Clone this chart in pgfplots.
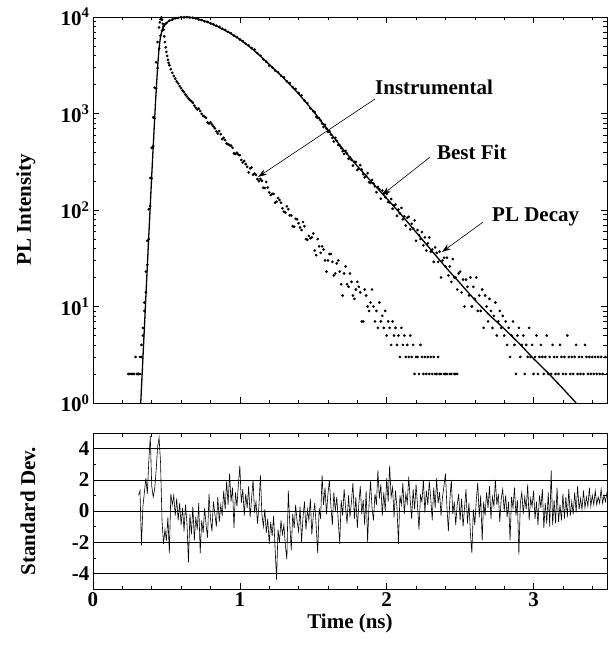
\documentclass[border=0pt]{standalone}
\usepackage{fontspec}
\setmainfont{Liberation Serif}
\usepackage{pgfplots}
\pgfplotsset{compat=1.18}
\usetikzlibrary{arrows.meta,calc}
\newcommand{\bigf}{\fontsize{21}{21}\selectfont\bfseries}
\begin{document}
\begin{tikzpicture}
\pgfplotsset{
  every axis/.append style={
    scale only axis, width=514pt,
    xmin=0, xmax=3.5,
    tick align=inside,
    major tick length=6pt, minor tick length=3.5pt,
    every tick/.style={black, line width=0.6pt},
    axis line style={line width=0.8pt},
    /pgf/number format/assume math mode=true,
    ticklabel style={font=\bigf},
    label style={font=\bigf},
    xtick={0,1,2,3},
    minor xtick={0.2,0.4,0.6,0.8,1.2,1.4,1.6,1.8,2.2,2.4,2.6,2.8,3.2,3.4},
    every axis y label/.style={at={(axis description cs:-0.105,0.5)},rotate=90,anchor=south,font=\bigf},
  }
}
\begin{axis}[name=top, height=386pt, ymode=log, ymin=1, ymax=10000,
  xticklabels={},
  ytick={1,10,100,1000,10000},
  yticklabels={10\textsuperscript{0},10\textsuperscript{1},10\textsuperscript{2},10\textsuperscript{3},10\textsuperscript{4}},
  minor ytick={2,3,4,5,6,7,8,9,20,30,40,50,60,70,80,90,200,300,400,500,600,700,800,900,2000,3000,4000,5000,6000,7000,8000,9000},
  ylabel={PL Intensity}]
% Instrumental response (dots)
\addplot[only marks, mark=*, mark size=1.15pt, black] coordinates {
(0.30,2)(0.31,2)(0.32,2)(0.33,3)(0.34,5)(0.35,11)(0.36,23)(0.37,48)(0.38,102)(0.39,215)(0.40,440)(0.41,910)(0.42,1850)(0.43,3400)(0.44,5500)(0.45,7800)(0.455,8800)(0.46,9500)(0.465,9900)(0.47,9400)(0.475,8500)(0.48,7400)(0.485,6300)(0.49,5500)(0.495,4850)(0.50,4350)(0.505,3950)(0.51,3600)(0.515,3350)(0.52,3160)(0.53,2880)(0.54,2640)(0.55,2450)(0.56,2300)(0.57,2150)(0.58,2050)(0.59,1920)(0.60,1830)(0.61,1730)(0.62,1665)(0.63,1570)(0.64,1500)(0.65,1430)(0.66,1380)(0.67,1340)(0.68,1292)(0.69,1210)(0.70,1148)(0.71,1100)(0.72,1123)(0.73,1060)(0.74,991)(0.75,945)(0.76,926)(0.77,901)(0.78,807)(0.79,790)(0.80,810)(0.81,770)(0.82,735)(0.83,701)(0.84,653)(0.85,621)(0.86,659)(0.87,610)(0.88,543)(0.89,560)(0.90,530)(0.91,489)(0.92,480)(0.93,470)(0.94,464)(0.95,441)(0.96,386)(0.97,380)(0.98,392)(0.99,375)(1.00,370)(1.01,330)(1.02,311)(1.03,322)(1.04,299)(1.05,280)(1.06,245)(1.07,270)(1.08,276)(1.09,232)(1.10,239)(1.11,231)(1.12,209)(1.13,199)(1.14,210)(1.15,201)(1.16,170)(1.17,169)(1.18,195)(1.19,171)(1.20,152)(1.21,143)(1.22,147)(1.23,147)(1.24,119)(1.25,122)(1.26,133)(1.27,127)(1.28,119)(1.29,104)(1.30,96)(1.31,94)(1.32,109)(1.33,102)(1.34,88)(1.35,88)(1.36,68)(1.37,67)(1.38,81)(1.39,80)(1.40,73)(1.41,66)(1.42,62)(1.43,75)(1.44,68)(1.45,50)(1.46,49)(1.47,54)(1.48,51)(1.49,52)(1.50,57)(1.51,38)(1.52,34)(1.53,50)(1.54,42)(1.55,36)(1.56,42)(1.57,39)(1.58,30)(1.59,23)(1.60,30)(1.61,35)(1.62,35)(1.63,29)(1.64,21)(1.65,22)(1.66,28)(1.67,30)(1.68,23)(1.69,17)(1.70,13)(1.71,22)(1.72,26)(1.73,17)(1.74,16)(1.75,22)(1.76,18)(1.77,13)(1.78,12)(1.79,15)(1.80,18)(1.81,16)(1.82,14)(1.83,7)(1.84,7)(1.85,15)(1.86,13)(1.87,10)(1.88,9)(1.89,11)(1.90,15)
(1.91,10)(1.92,7)(1.93,9)(1.94,6)(1.95,11)(1.96,7)(1.97,8)(1.98,6)(1.99,9)(2.00,5)(2.01,7)(2.02,6)(2.03,4)(2.04,7)(2.05,5)(2.06,6)(2.07,4)(2.08,5)(2.09,3)(2.10,6)(2.11,4)(2.12,5)(2.13,3)(2.14,4)(2.15,3)(2.16,5)(2.17,3)(2.18,4)(2.19,2)(2.20,3)(2.21,3)(2.22,2)(2.23,4)(2.24,3)(2.25,2)(2.26,3)(2.27,2)(2.28,3)(2.29,2)(2.30,3)(2.31,2)(2.32,3)(2.33,2)(2.34,2)(2.35,3)(2.36,2)(2.37,2)(2.39,2)(2.40,2)(2.41,2)(2.43,2)(2.44,2)(2.46,2)(2.47,2)(2.48,2)
};
% PL decay (dots)
\addplot[only marks, mark=*, mark size=1.15pt, black] coordinates {
(0.24,2)(0.25,2)(0.26,2)(0.27,2)(0.28,2)(0.29,3)(0.30,2)(0.31,2)(0.32,3)(0.33,4)(0.34,6)(0.35,9)(0.36,14)(0.37,27)(0.38,50)(0.39,110)(0.40,212)(0.41,460)(0.42,890)(0.43,1820)(0.44,2950)(0.45,4700)(0.46,6400)(0.47,7200)(0.48,8000)(0.49,8400)(0.50,8650)
(0.52,9180)(0.54,9400)(0.56,9700)(0.58,9790)(0.60,9980)(0.62,9900)(0.64,9960)(0.66,9850)(0.68,9820)(0.70,9700)(0.72,9420)(0.74,9300)(0.76,9010)(0.78,8900)(0.80,8600)(0.82,8430)(0.84,8110)(0.86,7900)(0.88,7550)(0.90,7340)(0.92,7000)(0.94,6790)(0.96,6420)(0.98,6190)(1.00,5850)(1.02,5620)(1.04,5290)(1.06,5080)(1.08,4780)(1.10,4600)(1.12,4210)(1.14,3970)(1.16,3640)(1.18,3430)(1.20,3130)(1.22,3000)(1.24,2780)(1.26,2670)(1.28,2460)(1.30,2370)(1.32,2160)(1.34,2070)(1.36,1880)(1.38,1800)(1.40,1630)(1.42,1540)(1.44,1360)(1.46,1280)(1.48,1130)
(1.50,1057)(1.51,1035)(1.52,921)(1.53,901)(1.54,895)(1.55,849)(1.56,788)(1.57,726)(1.58,764)(1.59,697)(1.60,643)(1.61,654)(1.62,605)(1.63,559)(1.64,512)(1.65,559)(1.66,521)(1.67,472)(1.68,466)(1.69,437)(1.70,407)(1.71,381)(1.72,409)(1.73,385)(1.74,339)(1.75,350)(1.76,330)(1.77,289)(1.78,315)(1.79,314)(1.80,260)(1.81,268)(1.82,292)(1.83,262)(1.84,235)(1.85,218)(1.86,226)(1.87,241)(1.88,194)(1.89,191)(1.90,205)(1.91,188)(1.92,176)(1.93,153)(1.94,173)(1.95,164)(1.96,131)(1.97,159)(1.98,148)(1.99,136)(2.00,147)
(2.01,121)(2.02,120)(2.03,130)(2.04,103)(2.05,112)(2.06,114)(2.07,87)(2.08,101)(2.09,92)(2.10,105)(2.11,80)(2.12,86)(2.13,69)(2.14,83)(2.15,85)(2.16,63)(2.17,72)(2.18,64)(2.19,78)(2.20,48)(2.21,62)(2.22,55)(2.23,50)(2.24,59)(2.25,43)(2.26,52)(2.27,38)(2.28,45)(2.29,52)(2.30,37)(2.31,39)(2.32,29)(2.33,41)(2.34,36)(2.35,29)(2.36,37)(2.37,20)(2.38,30)(2.39,32)(2.40,26)(2.41,32)(2.42,21)(2.43,26)(2.44,18)(2.45,31)(2.46,20)(2.47,20)(2.48,15)(2.49,22)(2.50,23)(2.51,14)(2.52,19)(2.53,10)(2.54,19)(2.55,16)(2.56,13)(2.57,20)(2.58,10)(2.59,16)(2.60,12)(2.61,20)(2.62,9)(2.63,13)(2.64,9)(2.65,15)(2.66,6)(2.67,13)(2.68,10)(2.69,7)(2.70,12)
(2.71,9)(2.72,6)(2.73,8)(2.74,11)(2.75,5)(2.76,7)(2.77,9)(2.78,6)(2.79,8)(2.80,5)(2.81,7)(2.82,4)(2.83,6)(2.84,3)(2.85,5)(2.86,7)(2.87,4)(2.88,2)(2.89,5)(2.90,6)(2.91,3)(2.92,4)(2.93,5)(2.94,2)(2.95,4)(2.96,3)(2.97,6)(2.98,3)(2.99,4)(3.00,2)(3.01,3)(3.02,5)(3.03,2)(3.04,3)(3.05,4)(3.06,3)(3.07,2)(3.08,3)(3.09,5)(3.10,2)(3.11,3)(3.12,2)(3.13,4)(3.14,3)(3.15,2)(3.16,3)(3.17,2)(3.18,4)(3.19,3)(3.20,2)(3.21,3)(3.22,2)(3.23,5)(3.24,3)(3.25,2)(3.26,3)(3.27,2)(3.28,3)(3.29,4)(3.30,2)(3.31,3)(3.32,2)(3.33,3)(3.34,2)(3.35,4)(3.36,3)(3.37,2)(3.38,3)(3.39,2)(3.40,3)(3.41,2)(3.42,3)(3.43,2)(3.44,3)(3.45,2)(3.46,3)(3.47,2)(3.49,3)(3.50,2)
};
% Best fit (line)
\addplot[black, line width=1.3pt] coordinates {
(0.325,1)(0.35,6.03)(0.375,38.0)(0.40,229)(0.425,1259)(0.44,3020)(0.45,4786)(0.46,6310)(0.47,7244)(0.48,7943)(0.50,8710)(0.52,9120)(0.55,9550)(0.60,9931)(0.65,9990)(0.70,9660)(0.775,8913)(0.85,7943)(0.925,6918)(1.00,5888)(1.10,4467)(1.20,3236)(1.30,2317)(1.40,1603)(1.50,1059)(1.60,676)(1.70,432)(1.80,285)(1.90,193)(2.00,132)(2.10,89.1)(2.20,58.9)(2.30,38.9)(2.40,25.7)(2.50,17.4)(2.60,11.7)(2.70,8.13)(2.80,5.89)(2.90,4.17)(3.00,2.88)(3.10,2.04)(3.20,1.41)(3.29,1.0)
};
\draw[-{Stealth[length=9pt,width=6pt]}, line width=0.6pt] (axis cs:1.92,1413) -- (axis cs:1.124,220);
\draw[-{Stealth[length=9pt,width=6pt]}, line width=0.6pt] (axis cs:2.295,354) -- (axis cs:1.968,143);
\draw[-{Stealth[length=9pt,width=6pt]}, line width=0.6pt] (axis cs:2.656,75) -- (axis cs:2.376,36.7);
\node[anchor=west, font=\bigf, inner sep=0pt] at (axis cs:1.92,1884) {Instrumental};
\node[anchor=west, font=\bigf, inner sep=0pt] at (axis cs:2.342,398) {Best Fit};
\node[anchor=west, font=\bigf, inner sep=0pt] at (axis cs:2.717,84.5) {PL Decay};
\end{axis}
\begin{axis}[name=bot, at={($(top.south west)+(0,-30pt)$)}, anchor=north west,
  height=156pt, ymin=-5, ymax=5,
  ytick={-4,-2,0,2,4}, minor ytick={-3,-1,1,3},
  ymajorgrids, major grid style={black, line width=0.5pt},
  xlabel={Time (ns)}, ylabel={Standard Dev.}]
\addplot[black, line width=0.6pt] coordinates {
(0.31,1.0)(0.32,1.3)(0.33,-2.2)(0.34,0.3)(0.35,1.2)(0.36,2.1)(0.37,1.1)(0.38,3.2)(0.39,4.8)(0.40,1.6)(0.41,0.9)(0.42,1.4)(0.43,2.6)(0.44,4.1)(0.45,4.7)(0.46,3.1)(0.47,-0.6)(0.48,-2.1)(0.49,-1.2)(0.50,-1.9)(0.51,-0.4)(0.52,-2.7)(0.53,1.1)(0.54,0.4)(0.55,1.0)(0.56,-0.3)(0.57,0.8)(0.58,-0.6)(0.59,0.5)(0.60,-0.9)(0.61,0.2)(0.62,-1.3)(0.63,0.4)(0.64,-0.8)(0.65,-3.3)(0.66,-0.2)(0.67,-1.5)(0.68,0.3)(0.69,-1.9)(0.70,-0.4)(0.71,-1.2)(0.72,0.5)(0.73,-2.7)(0.74,-0.6)(0.75,-1.4)(0.76,0.2)(0.77,-0.9)(0.78,-1.7)(0.79,1.1)(0.80,-0.5)(0.81,-1.3)(0.82,0.6)(0.83,-0.2)(0.84,-1.0)(0.85,0.9)(0.86,-0.7)(0.87,0.4)(0.88,-0.3)(0.89,1.3)(0.90,0.1)(0.91,1.9)(0.92,0.4)(0.93,2.4)(0.94,0.6)(0.95,1.5)(0.96,-1.1)(0.97,1.2)(0.98,0.3)(0.99,1.7)(1.00,2.9)(1.01,0.5)(1.02,1.4)(1.03,-0.3)(1.04,1.1)(1.05,0.2)(1.06,1.6)(1.07,-0.4)(1.08,0.8)(1.09,2.0)(1.10,-0.1)(1.11,0.6)(1.12,-0.8)(1.13,0.3)(1.14,2.3)(1.15,-0.2)(1.16,-1.0)(1.17,0.1)(1.18,-1.4)(1.19,-0.5)(1.20,-2.1)(1.21,-0.7)(1.22,-1.6)(1.23,-0.3)(1.24,-2.4)(1.25,-4.4)(1.26,-1.2)(1.27,-2.0)(1.28,-0.6)(1.29,-1.5)(1.30,-0.9)(1.31,-2.2)(1.32,-3.1)(1.33,1.3)(1.34,-0.8)(1.35,-2.5)(1.36,-0.2)(1.37,-1.1)(1.38,0.4)(1.39,-0.7)(1.40,-1.3)(1.41,0.3)(1.42,-2.0)(1.43,-0.4)(1.44,0.6)(1.45,-1.2)(1.46,0.1)(1.47,-0.6)(1.48,0.8)(1.49,-1.5)(1.50,-0.3)(1.51,0.5)(1.52,-1.0)(1.53,-2.7)(1.54,0.2)(1.55,-0.5)(1.56,2.3)(1.57,0.4)(1.58,1.5)(1.59,-0.2)(1.60,1.1)(1.61,2.0)(1.62,0.3)(1.63,-0.9)(1.64,1.2)(1.65,0.0)(1.66,0.9)(1.67,-0.6)(1.68,-2.1)(1.69,0.7)(1.70,-0.3)(1.71,1.4)(1.72,0.2)(1.73,-0.8)(1.74,1.0)(1.75,-0.4)(1.76,0.6)(1.77,1.8)(1.78,-0.5)(1.79,0.9)(1.80,-1.1)(1.81,0.4)(1.82,1.6)(1.83,-0.2)(1.84,0.7)(1.85,-0.9)(1.86,1.3)(1.87,-2.0)(1.88,0.5)(1.89,1.9)(1.90,0.2)(1.91,-0.6)(1.92,1.1)(1.93,0.4)(1.94,2.6)(1.95,0.8)(1.96,1.7)(1.97,-0.3)(1.98,1.2)(1.99,0.0)(2.00,2.1)(2.01,0.6)(2.02,2.9)(2.03,0.9)(2.04,1.5)(2.05,-0.4)(2.06,1.3)(2.07,0.2)(2.08,-2.1)(2.09,1.0)(2.10,0.4)(2.11,1.8)(2.12,-0.2)(2.13,1.1)(2.14,0.5)(2.15,2.2)(2.16,0.7)(2.17,-0.5)(2.18,1.4)(2.19,0.1)(2.20,1.7)(2.21,0.3)(2.22,-1.2)(2.23,1.0)(2.24,0.6)(2.25,2.0)(2.26,-0.1)(2.27,1.3)(2.28,0.4)(2.29,1.9)(2.30,0.8)(2.31,-0.6)(2.32,1.5)(2.33,0.2)(2.34,2.1)(2.35,0.5)(2.36,1.2)(2.37,-0.3)(2.38,0.9)(2.39,1.6)(2.40,2.4)(2.41,0.3)(2.42,-1.3)(2.43,0.7)(2.44,2.0)(2.45,-0.2)(2.46,0.6)(2.47,-0.9)(2.48,0.4)(2.49,1.1)(2.50,-0.6)(2.51,0.8)(2.52,-1.0)(2.53,0.2)(2.54,1.4)(2.55,-0.8)(2.56,0.5)(2.57,-1.4)(2.58,-2.7)(2.59,0.1)(2.60,-0.9)(2.61,0.7)(2.62,1.8)(2.63,-0.4)(2.64,1.0)(2.65,-1.9)(2.66,0.6)(2.67,-0.3)(2.68,1.2)(2.69,0.2)(2.70,1.6)(2.71,-0.5)(2.72,0.9)(2.73,0.3)(2.74,2.0)(2.75,0.4)(2.76,1.1)(2.77,-0.7)(2.78,0.8)(2.79,1.4)(2.80,0.0)(2.81,1.0)(2.82,-0.4)(2.83,0.6)(2.84,-1.9)(2.85,0.9)(2.86,0.2)(2.87,1.5)(2.88,-0.3)(2.89,0.7)(2.90,-2.8)(2.91,0.5)(2.92,1.2)(2.93,-0.2)(2.94,0.9)(2.95,0.1)(2.96,1.7)(2.97,-0.6)(2.98,0.8)(2.99,0.3)(3.00,1.3)(3.01,-0.5)(3.02,0.6)(3.03,-0.9)(3.04,1.0)(3.05,0.2)(3.06,1.4)(3.07,-1.1)(3.08,0.5)(3.09,-0.8)(3.10,1.2)(3.11,-1.0)(3.12,2.6)(3.13,-0.9)(3.14,0.7)(3.15,-0.8)(3.16,1.5)(3.17,-0.7)(3.18,0.4)(3.19,-0.6)(3.20,1.1)(3.21,-0.5)(3.22,0.9)(3.23,-0.4)(3.24,1.4)(3.25,-0.3)(3.26,0.6)(3.27,-0.2)(3.28,1.2)(3.29,-0.1)(3.30,1.6)(3.31,0.1)(3.32,0.8)(3.33,0.1)(3.34,1.3)(3.35,0.2)(3.36,0.9)(3.37,0.3)(3.38,1.5)(3.39,0.3)(3.40,1.0)(3.41,0.4)(3.42,1.3)(3.43,0.4)(3.44,0.9)(3.45,0.5)(3.46,1.4)(3.47,0.5)(3.48,1.0)(3.49,0.6)(3.50,1.2)
};
\end{axis}
\pgfresetboundingbox
\path ($(top.north west)+(-93pt,17pt)$) rectangle ($(bot.south west)+(515pt,-60pt)$);
\end{tikzpicture}
\end{document}
